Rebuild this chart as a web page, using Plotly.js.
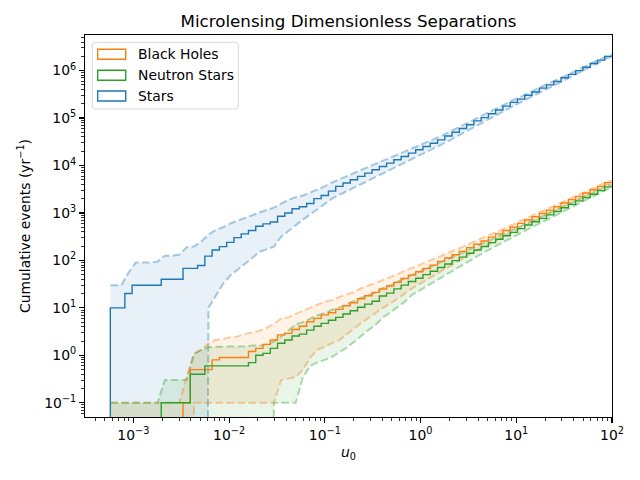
<!DOCTYPE html>
<html>
<head>
<meta charset="utf-8">
<script src="https://cdn.plot.ly/plotly-3.0.1.min.js"></script>
<style>html,body{margin:0;padding:0;background:#fff;}#chart{width:640px;height:480px;}</style>
</head>
<body>
<div id="chart"></div>
<script>
// Bin edges of u0 (log-spaced)
const binEdges = [5.747e-4, 6.847e-4, 8.155e-4, 9.713e-4, 1.157e-3, 1.378e-3, 1.642e-3, 1.955e-3, 2.329e-3, 2.774e-3,
  3.304e-3, 3.935e-3, 4.687e-3, 5.582e-3, 6.649e-3, 7.921e-3, 9.434e-3, 1.124e-2, 1.338e-2, 1.594e-2,
  1.899e-2, 2.262e-2, 2.694e-2, 3.209e-2, 3.822e-2, 4.552e-2, 5.422e-2, 6.458e-2, 7.692e-2, 9.163e-2,
  0.1091, 0.1300, 0.1548, 0.1844, 0.2197, 0.2617, 0.3117, 0.3712, 0.4422, 0.5266,
  0.6272, 0.7471, 0.8899, 1.060, 1.263, 1.504, 1.791, 2.134, 2.541, 3.027,
  3.606, 4.295, 5.115, 6.093, 7.257, 8.644, 10.30, 12.26, 14.61, 17.40,
  20.72, 24.69, 29.40, 35.02, 41.71, 49.69, 59.19, 70.49, 83.96, 100];

// Cumulative events per bin
const starsCum = [10,10,20,30,30,30,30,40,40,40, 68,68,78,123,166,195,240,302,363,427,
  525,589,646,851,1000,1230,1350,1580,2000,2340, 2880,3630,4270,5010,5890,6920,8130,9550,11200,13200,
  15500,18200,21400,25100,29500,34700,41700,50100,60300,72400, 87100,102000,123000,148000,178000,214000,251000,302000,355000,427000,
  501000,589000,708000,832000,1000000,1175000,1413000,1660000,1995000];
const starsHi = [30,30,55,90,90,90,95,126,126,132, 190,195,250,350,440,500,600,690,795,890,
  1020,1150,1290,1580,1900,2140,2340,2690,3090,3630, 4370,5130,5960,6920,8040,9330,10800,12600,14600,17000,
  19700,22900,26600,30900,35900,41700,49900,59600,71100,85100, 101600,118900,141900,169800,202800,242700,283100,338800,395400,473200,
  552100,645700,770900,901600,1076000,1259000,1507000,1762000,2113000];
const starsLo = [0,0,0,0,0,0,0,0,0,0, 0,0,0,10,18,32,48,63,83,112,
  151,174,195,316,417,562,724,933,1200,1510, 2000,2400,2850,3390,4030,4790,5690,6760,8040,9550,
  11350,13490,16030,19050,22650,26920,32730,39810,48420,58880, 71450,84530,102300,124200,150300,182000,215800,261200,309000,375000,
  443600,524800,636800,753400,912000,1081000,1309000,1549000,1879000];

const bhCum = [0,0,0,0,0,0,0,0,0,0, 0.1,0.5,0.5,0.5,0.8,0.9,0.9,0.9,0.9,1.2,
  1.4,1.7,2.1,2.7,2.9,3.5,4.1,5.1,6.0,7.1, 7.9,9.3,11.1,12.8,15.6,18.0,21.2,25.0,28.8,34.7,
  41.7,49.0,57.5,67.6,79.4,95.5,112,132,155,186, 219,257,309,363,427,501,603,708,832,977,
  1148,1349,1622,1905,2239,2630,3090,3631,4365];
const bhHi = [0.1,0.1,0.1,0.1,0.1,0.1,0.1,0.1,0.1,0.1, 0.35,1.1,1.3,1.8,2.1,2.2,2.4,2.5,2.8,3.0,
  3.3,3.8,4.6,6.0,6.3,7.5,8.6,10.2,11.7,13.5, 14.7,16.9,19.3,21.7,25.9,29.2,33.6,38.7,43.7,51.3,
  60.3,69.2,79.4,91.2,105,124,145,166,193,229, 266,309,367,427,498,581,693,809,944,1102,
  1288,1507,1803,2109,2466,2884,3373,3945,4732];
const bhLo = [0,0,0,0,0,0,0,0,0,0, 0,0.1,0.1,0.1,0.1,0.1,0.1,0.1,0.1,0.1,
  0.1,0.1,0.1,0.3,0.33,0.35,0.5,0.9,1.3,1.5, 1.8,2.1,2.7,3.6,4.8,6.2,8.0,10.0,12.3,15.8,
  20.4,25.7,31.6,38.9,47.9,60.3,73.3,89.1,108,135, 162,195,240,288,343,407,495,589,700,832,
  989,1175,1429,1698,2009,2377,2812,3327,4027];

const nsCum = [0,0,0,0,0,0,0,0.1,0.1,0.1, 0.1,0.4,0.4,0.6,0.6,0.6,0.6,0.6,0.6,0.7,
  1.0,1.1,1.4,1.8,2.1,2.55,2.8,3.4,4.1,4.7, 5.5,6.3,7.4,8.7,10.3,12.0,13.8,17.8,20.4,25.1,
  30.2,35.9,42.2,50.1,58.9,70.8,84.1,98.9,117.5,141, 166,197,237,279,331,389,468,556,653,767,
  912,1072,1288,1514,1799,2113,2483,2951,3548];
const nsHi = [0.1,0.1,0.1,0.1,0.1,0.1,0.1,0.3,0.3,0.3, 0.3,1.05,1.3,1.5,1.5,1.5,1.5,1.55,1.55,1.6,
  1.6,1.7,1.95,2.5,3.3,4.5,5.0,5.9,7.0,7.8, 9.1,10.2,12.0,13.8,16.3,18.6,20.9,26.3,29.5,35.9,
  42.7,50.1,58.2,67.6,77.6,92.3,108,124,146,174, 202,237,282,327,386,451,538,635,741,865,
  1023,1197,1432,1675,1982,2317,2710,3206,3846];
const nsLo = [0,0,0,0,0,0,0,0,0,0, 0,0,0,0,0,0,0,0,0,0,
  0,0,0.1,0.1,0.1,0.1,0.35,0.6,0.72,0.8, 0.93,1.15,1.45,1.9,2.6,3.4,4.4,6.3,8.0,10.5,
  13.5,18.8,23.2,28.8,35.5,44.7,55.0,66.8,82.2,102, 123,150,184,221,266,316,385,462,550,653,
  785,933,1135,1349,1614,1910,2259,2704,3273];

const seriesNames = ['Black Holes', 'Neutron Stars', 'Stars'];
const xTickVals = [1e-3, 1e-2, 1e-1, 1, 10, 100];
const xTickText = ['10<sup>−3</sup>', '10<sup>−2</sup>', '10<sup>−1</sup>', '10<sup>0</sup>', '10<sup>1</sup>', '10<sup>2</sup>'];
const yTickVals = [1e-1, 1, 10, 100, 1e3, 1e4, 1e5, 1e6];
const yTickText = ['10<sup>−1</sup>', '10<sup>0</sup>', '10<sup>1</sup>', '10<sup>2</sup>', '10<sup>3</sup>', '10<sup>4</sup>', '10<sup>5</sup>', '10<sup>6</sup>'];

// ---- drawing ----
const TINY = 1e-30;
const pos = v => (v > 0 ? v : TINY);
const centers = [];
for (let i = 0; i < binEdges.length - 1; i++) centers.push(Math.sqrt(binEdges[i] * binEdges[i + 1]));
const nE = binEdges.length;

function stepTrace(vals, color) {
  const x = [binEdges[0]].concat(binEdges);
  const y = [TINY].concat(vals.map(pos)).concat([pos(vals[vals.length - 1])]);
  return {x, y, type: 'scatter', mode: 'lines', line: {shape: 'hv', color, width: 1.4}, hoverinfo: 'skip', showlegend: false};
}
function bandTraces(lo, hi, rgb) {
  const x = [binEdges[0]].concat(centers).concat([binEdges[nE - 1]]);
  const mk = a => [pos(a[0])].concat(a.map(pos)).concat([pos(a[a.length - 1])]);
  const lineStyle = {color: 'rgba(' + rgb + ',0.38)', width: 2, dash: '7.7px,3.3px'};
  return [
    {x, y: mk(lo), type: 'scatter', mode: 'lines', line: lineStyle, hoverinfo: 'skip', showlegend: false},
    {x, y: mk(hi), type: 'scatter', mode: 'lines', line: lineStyle, fill: 'tonexty', fillcolor: 'rgba(' + rgb + ',0.1)', hoverinfo: 'skip', showlegend: false}
  ];
}

const cBH = '#ff7f0e', cNS = '#2ca02c', cST = '#1f77b4';
const data = [].concat(
  bandTraces(starsLo, starsHi, '31,119,180'),
  bandTraces(bhLo, bhHi, '255,127,14'),
  bandTraces(nsLo, nsHi, '44,160,44'),
  [stepTrace(bhCum, cBH), stepTrace(nsCum, cNS), stepTrace(starsCum, cST)]
);

// manual matplotlib-style legend (paper coords)
const L = {l: 85, r: 612, t: 35, b: 417};
const px = v => (v - L.l) / (L.r - L.l);
const py = v => (L.b - v) / (L.b - L.t);
function roundRect(x0, y0, x1, y1, r) {
  const X0 = px(x0), X1 = px(x1), Y0 = py(y1), Y1 = py(y0);
  const rx = r / (L.r - L.l), ry = r / (L.b - L.t);
  return 'M' + (X0 + rx) + ',' + Y1 + ' L' + (X1 - rx) + ',' + Y1 + ' Q' + X1 + ',' + Y1 + ' ' + X1 + ',' + (Y1 - ry) +
    ' L' + X1 + ',' + (Y0 + ry) + ' Q' + X1 + ',' + Y0 + ' ' + (X1 - rx) + ',' + Y0 +
    ' L' + (X0 + rx) + ',' + Y0 + ' Q' + X0 + ',' + Y0 + ' ' + X0 + ',' + (Y0 + ry) +
    ' L' + X0 + ',' + (Y1 - ry) + ' Q' + X0 + ',' + Y1 + ' ' + (X0 + rx) + ',' + Y1 + ' Z';
}
const shapes = [{type: 'path', xref: 'paper', yref: 'paper', path: roundRect(92.3, 42.3, 238.3, 109, 3),
  fillcolor: 'rgba(255,255,255,0.8)', line: {color: 'rgba(204,204,204,0.8)', width: 1}, layer: 'above'}];
const annotations = [];
const legColors = [cBH, cNS, cST];
const rowY = [54.3, 75.2, 96.0];
for (let i = 0; i < 3; i++) {
  shapes.push({type: 'rect', xref: 'paper', yref: 'paper', x0: px(97.7), x1: px(125.7), y0: py(rowY[i] + 5), y1: py(rowY[i] - 5),
    line: {color: legColors[i], width: 1.4}, fillcolor: 'rgba(0,0,0,0)', layer: 'above'});
  annotations.push({xref: 'paper', yref: 'paper', x: px(136), y: py(rowY[i]), xanchor: 'left', yanchor: 'middle',
    text: seriesNames[i], showarrow: false, font: {size: 13.9, color: 'black'}});
}

const axisCommon = {
  type: 'log', showline: true, mirror: true, linecolor: 'black', linewidth: 1.1,
  ticks: 'outside', ticklen: 4.9, tickwidth: 1.1, tickcolor: 'black', tickmode: 'array',
  showgrid: false, zeroline: false, automargin: false,
  minor: {ticks: 'outside', ticklen: 2.8, tickwidth: 0.8, tickcolor: 'black', dtick: 'D1', showgrid: false},
  tickfont: {size: 13.9, color: 'black'}
};

const layout = {
  width: 640, height: 480,
  margin: {l: 85, r: 28, t: 35, b: 63, pad: 0},
  paper_bgcolor: 'white', plot_bgcolor: 'white',
  font: {family: 'DejaVu Sans, sans-serif', size: 13.9, color: 'black'},
  showlegend: false,
  title: {text: 'Microlensing Dimensionless Separations', font: {size: 16.7, color: 'black'},
    x: 0.5, xref: 'paper', xanchor: 'center', y: 1 - 21 / 480, yref: 'container', yanchor: 'middle'},
  xaxis: Object.assign({}, axisCommon, {range: [-3.505, 2], tickvals: xTickVals, ticktext: xTickText,
    title: {text: '<i>u</i><sub>0</sub>', font: {size: 13.9}, standoff: 5}}),
  yaxis: Object.assign({}, axisCommon, {range: [-1.30, 6.75], tickvals: yTickVals, ticktext: yTickText,
    title: {text: 'Cumulative events (yr<sup>−1</sup>)', font: {size: 13.9}, standoff: 10}}),
  shapes, annotations
};

Plotly.newPlot('chart', data, layout, {staticPlot: true, displayModeBar: false});
</script>
</body>
</html>
